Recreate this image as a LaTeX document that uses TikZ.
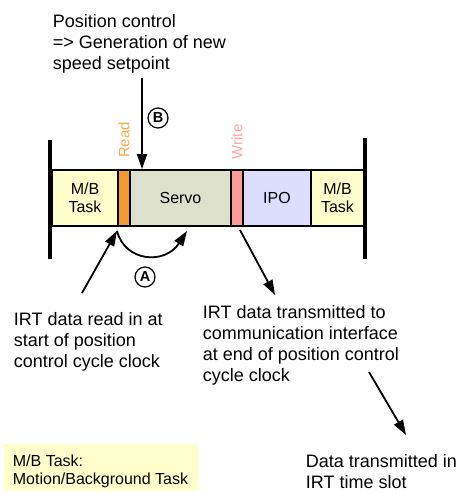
\documentclass[tikz,border=0pt]{standalone}
\usepackage{fontspec}
\setmainfont{Liberation Sans}
\usetikzlibrary{arrows.meta}
\definecolor{mbyellow}{HTML}{FFFFCC}
\definecolor{servogreen}{HTML}{DDE0CB}
\definecolor{ipoblue}{HTML}{DDDDFF}
\definecolor{readorange}{HTML}{F39A2E}
\definecolor{writepink}{HTML}{FF9999}
\begin{document}
\begin{tikzpicture}[x=1pt,y=-1pt,>={Triangle[length=15pt,width=10pt]},line width=1.8pt]
\tikzstyle{task}=[draw,line width=1.8pt,minimum height=56pt,inner sep=0pt,font=\fontsize{16}{18}\selectfont,align=center]
\tikzstyle{note}=[inner sep=0pt,anchor=north west,align=left,font=\fontsize{18}{21}\selectfont]
\tikzstyle{circmark}=[draw,circle,line width=1.2pt,minimum size=20pt,inner sep=0pt,font=\fontsize{14.5}{14.5}\selectfont\bfseries]
\tikzstyle{ioname}=[rotate=90,inner sep=0pt,font=\fontsize{15}{15}\selectfont]
\useasboundingbox (0,0) rectangle (462,493);
\node[task,fill=mbyellow,minimum width=66pt] (mbl) at (85,198) {M/B\\Task};
\node[task,fill=readorange,minimum width=12pt] (rd) at (124,198) {};
\node[task,fill=servogreen,minimum width=101pt] (servo) at (180.5,198) {Servo};
\node[task,fill=writepink,minimum width=12pt] (wr) at (237,198) {};
\node[task,fill=ipoblue,minimum width=68pt] (ipo) at (277,198) {IPO};
\node[task,fill=mbyellow,minimum width=53pt] (mbr) at (337.5,198) {M/B\\Task};
\draw[line width=3.5pt] (50,140) coordinate (lt) -- (50,259) coordinate (lb);
\draw[line width=3.5pt] (365,138) coordinate (rt) -- (365,259) coordinate (rb);
\node[ioname,text=readorange!85!white] (readlbl) at (124,140) {Read};
\node[ioname,text=writepink!90!white] (writelbl) at (237,142) {Write};
\node[note] (posctrl) at (52,14) {Position control\\=> Generation of new\\speed setpoint};
\node[circmark] (markb) at (158,118) {B};
\coordinate (btop) at (142,78);
\draw[->] (btop) -- (btop |- servo.north);
\node[note] (readin) at (13,312) {IRT data read in at\\start of position\\control cycle clock};
\coordinate (readfoot) at (82,293);
\coordinate (readpt) at (117,231);
\coordinate (servopt) at (187,231);
\draw[->] (readfoot) -- (readpt);
\draw[->] (readpt) .. controls (125,262) and (165,265) .. (servopt);
\node[circmark] (marka) at (145,277) {A};
\node[note] (transm) at (202,305) {IRT data transmitted to\\communication interface\\at end of position control\\cycle clock};
\coordinate (writept) at (240,230);
\coordinate (transmtip) at (275,295);
\draw[->] (writept) -- (transmtip);
\node[note] (slot) at (305,454) {Data transmitted in\\IRT time slot};
\coordinate (slotstart) at (369,372);
\coordinate (slottip) at (406,435);
\draw[->] (slotstart) -- (slottip);
\fill[mbyellow] (4,444) rectangle (198,491);
\node[note,font=\fontsize{16}{18}\selectfont] (legend) at (12,453.5) {M/B Task:\\Motion/Background Task};
\end{tikzpicture}
\end{document}
